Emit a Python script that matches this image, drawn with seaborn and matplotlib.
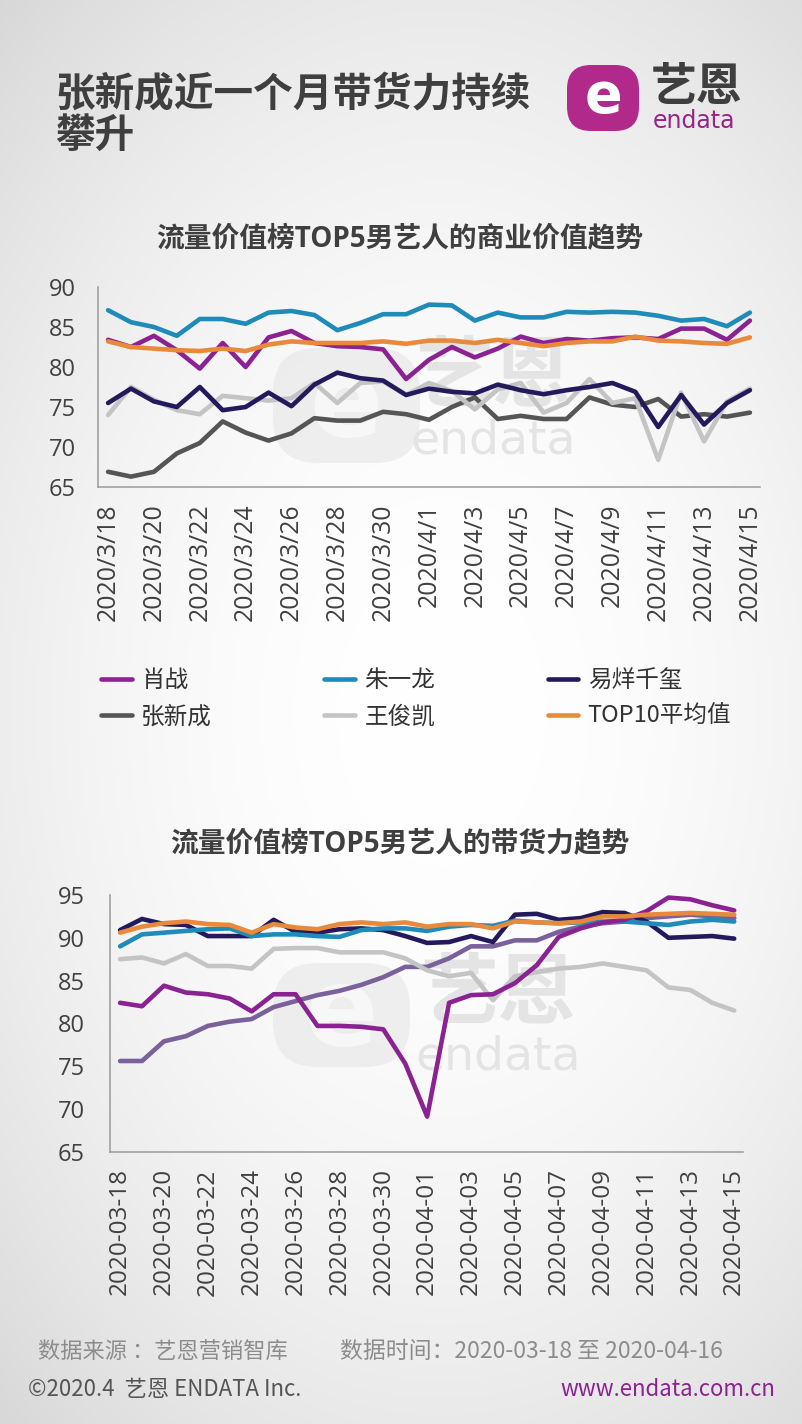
import numpy as np
import pandas as pd
import matplotlib
matplotlib.use("Agg")
import matplotlib.pyplot as plt
import matplotlib.transforms as mtransforms
from matplotlib.patches import FancyBboxPatch
from matplotlib.lines import Line2D
import seaborn as sns

# ---------------- data ----------------
names = ["肖战", "朱一龙", "易烊千玺", "张新成", "王俊凯", "TOP10平均值"]
day_index = list(range(29))
dates_top = [f"{d.year}/{d.month}/{d.day}" for d in pd.date_range("2020-03-18", "2020-04-15")]
dates_bot = [d.strftime("%Y-%m-%d") for d in pd.date_range("2020-03-18", "2020-04-15")]

xiao_top = [83.4, 82.5, 83.9, 82.1, 79.8, 83.0, 80.0, 83.7, 84.5, 83.0, 82.6, 82.5, 82.2, 78.5, 80.9,
            82.5, 81.2, 82.3, 83.8, 83.0, 83.5, 83.3, 83.6, 83.7, 83.5, 84.8, 84.8, 83.4, 85.8]
zhu_top = [87.1, 85.6, 85.0, 83.9, 86.0, 86.0, 85.4, 86.8, 87.0, 86.5, 84.6, 85.5, 86.6, 86.6, 87.8,
           87.7, 85.8, 86.8, 86.2, 86.2, 86.9, 86.8, 86.9, 86.8, 86.4, 85.8, 86.0, 85.1, 86.8]
yi_top = [75.5, 77.3, 75.7, 75.0, 77.5, 74.6, 75.0, 76.8, 75.1, 77.8, 79.3, 78.6, 78.3, 76.5, 77.3,
          76.9, 76.7, 77.8, 77.1, 76.6, 77.1, 77.5, 78.0, 76.9, 72.5, 76.5, 72.8, 75.5, 77.1]
zhang_top = [66.9, 66.3, 66.9, 69.2, 70.5, 73.2, 71.8, 70.8, 71.7, 73.6, 73.3, 73.3, 74.4, 74.1, 73.4,
             75.0, 76.2, 73.5, 73.9, 73.5, 73.5, 76.2, 75.3, 75.0, 76.0, 73.8, 74.1, 73.8, 74.3]
wang_top = [74.0, 77.5, 75.9, 74.6, 74.1, 76.4, 76.1, 75.8, 76.1, 78.0, 75.5, 78.0, 78.2, 76.5, 78.0,
            77.0, 74.7, 77.2, 78.0, 74.3, 75.5, 78.5, 75.5, 76.1, 68.4, 76.8, 70.7, 75.7, 77.3]
avg_top = [83.2, 82.5, 82.3, 82.1, 82.0, 82.3, 82.0, 82.8, 83.2, 83.0, 83.0, 83.0, 83.2, 82.9, 83.3,
           83.3, 83.0, 83.4, 83.0, 82.6, 83.0, 83.2, 83.2, 83.8, 83.3, 83.2, 83.0, 82.9, 83.7]

xiao_bot = [82.4, 82.0, 84.4, 83.6, 83.4, 82.9, 81.4, 83.4, 83.4, 79.7, 79.7, 79.6, 79.3, 75.3, 69.1,
            82.4, 83.3, 83.4, 84.7, 86.8, 90.1, 91.1, 91.8, 92.1, 93.1, 94.7, 94.5, 93.8, 93.2]
zhu_bot = [89.0, 90.4, 90.6, 90.8, 91.0, 91.1, 90.2, 90.4, 90.4, 90.2, 90.1, 90.9, 91.1, 91.1, 90.8,
           91.3, 91.5, 91.4, 92.0, 91.8, 91.7, 91.8, 91.9, 91.9, 91.7, 91.5, 91.9, 92.1, 91.9]
yi_bot = [90.9, 92.2, 91.6, 91.5, 90.2, 90.2, 90.2, 92.1, 90.7, 90.6, 91.0, 91.1, 90.9, 90.2, 89.4,
          89.5, 90.2, 89.5, 92.7, 92.8, 92.1, 92.3, 93.0, 92.9, 91.9, 90.0, 90.1, 90.2, 89.9]
zhang_bot = [75.6, 75.6, 77.9, 78.5, 79.7, 80.2, 80.5, 81.9, 82.6, 83.3, 83.8, 84.5, 85.4, 86.6, 86.6,
             87.6, 89.0, 89.0, 89.7, 89.7, 90.7, 91.3, 91.7, 91.9, 92.3, 92.5, 92.7, 92.5, 92.3]
wang_bot = [87.5, 87.7, 87.0, 88.1, 86.7, 86.7, 86.4, 88.7, 88.8, 88.8, 88.3, 88.3, 88.3, 87.6, 86.2,
            85.5, 85.9, 82.7, 85.5, 86.0, 86.4, 86.6, 87.0, 86.6, 86.2, 84.2, 83.9, 82.4, 81.5]
avg_bot = [90.6, 91.3, 91.7, 91.9, 91.6, 91.5, 90.6, 91.6, 91.2, 91.0, 91.6, 91.8, 91.6, 91.8, 91.3,
           91.6, 91.6, 91.1, 91.9, 91.8, 91.7, 91.9, 92.5, 92.5, 92.7, 92.8, 92.9, 92.8, 92.7]

top_series = [xiao_top, zhu_top, yi_top, zhang_top, wang_top, avg_top]
bot_series = [xiao_bot, zhu_bot, yi_bot, zhang_bot, wang_bot, avg_bot]

colors_top = {"肖战": "#8a2291", "朱一龙": "#1f8bb8", "易烊千玺": "#231a5e",
              "张新成": "#555555", "王俊凯": "#c4c4c4", "TOP10平均值": "#e8893b"}
colors_bot = dict(colors_top)
colors_bot["张新成"] = "#7a619c"
draw_order = ["张新成", "王俊凯", "易烊千玺", "朱一龙", "肖战", "TOP10平均值"]

# ---------------- style ----------------
sns.set_theme(style="white")
plt.rcParams["font.family"] = ["Open Sans", "Noto Sans CJK SC", "DejaVu Sans"]
CJK = ["Noto Sans CJK SC", "DejaVu Sans"]

W, H = 802, 1424
fig = plt.figure(figsize=(W / 100, H / 100), dpi=100)
pix = mtransforms.Affine2D().scale(1 / 100) + fig.dpi_scale_trans  # pixel coords (y up)


def fy(y):
    return H - y


# background gradient
bg = fig.add_axes([0, 0, 1, 1], zorder=-10)
yy, xx = np.mgrid[0:H, 0:W]
r = np.sqrt(((xx - W * 0.55) / (W * 0.75)) ** 2 + ((yy - H * 0.5) / (H * 0.62)) ** 2)
val = 1.0 - 0.13 * np.clip(r, 0, 1.4) ** 2
bg.imshow(np.dstack([val, val, val]), extent=[0, 1, 0, 1], aspect="auto")
bg.set_axis_off()

# ---------------- header ----------------
fig.text(55 / W, 1 - 95 / H, "张新成近一个月带货力持续", fontsize=28.5, fontweight="bold",
         color="#3f3f3f", family=CJK, va="center", ha="left")
fig.text(55 / W, 1 - 135 / H, "攀升", fontsize=28.5, fontweight="bold",
         color="#3f3f3f", family=CJK, va="center", ha="left")

# logo
logo = FancyBboxPatch((567, fy(131)), 72, 66, boxstyle="round,pad=0,rounding_size=24",
                      transform=pix, facecolor="#b12a8b", edgecolor="none", zorder=5)
fig.patches.append(logo)
fig.text(603 / W, 1 - 97 / H, "e", fontsize=40, fontweight="bold", color="white",
         family=["DejaVu Sans"], ha="center", va="center", zorder=6)
fig.text(697 / W, 1 - 88 / H, "艺恩", fontsize=33, fontweight="bold", color="#3f3f3f",
         family=CJK, ha="center", va="center")
fig.text(694 / W, 1 - 121 / H, "endata", fontsize=17, color="#9a2485",
         family=["DejaVu Sans"], ha="center", va="center")

# subtitles
fig.text(400 / W, 1 - 240 / H, "流量价值榜TOP5男艺人的商业价值趋势", fontsize=20, fontweight="bold",
         color="#3f3f3f", ha="center", va="center")
fig.text(400 / W, 1 - 845 / H, "流量价值榜TOP5男艺人的带货力趋势", fontsize=20, fontweight="bold",
         color="#3f3f3f", ha="center", va="center")


def watermark(cx_text, cy_text, cy_endata, shape_box):
    x0, y0, x1, y1 = shape_box
    p = FancyBboxPatch((x0, fy(y1)), x1 - x0, y1 - y0, boxstyle="round,pad=0,rounding_size=45",
                       transform=pix, facecolor="#e6e6e6", edgecolor="none", alpha=0.6, zorder=-5)
    fig.patches.append(p)
    fig.text((x0 + x1) / 2 / W, 1 - ((y0 + y1) / 2) / H, "e", fontsize=78, fontweight="bold",
             color="#f7f7f7", family=["DejaVu Sans"], ha="center", va="center", zorder=-4)
    fig.text(cx_text / W, 1 - cy_text / H, "艺恩", fontsize=56, fontweight="bold",
             color="#e4e4e4", family=CJK, ha="center", va="center", zorder=-4)
    fig.text(cx_text / W, 1 - cy_endata / H, "endata", fontsize=34, color="#e4e4e4",
             family=["DejaVu Sans"], ha="center", va="center", zorder=-4)


watermark(493, 378, 441, (273, 348, 420, 463))
watermark(498, 995, 1057, (273, 963, 410, 1067))


def make_df(series):
    rows = []
    for n, vals in zip(names, series):
        for i, v in zip(day_index, vals):
            rows.append({"idx": i, "value": v, "name": n})
    return pd.DataFrame(rows)


def style_axes(ax, ylim, yticks, xlabels, ypad, xpad, xsize):
    ax.set_facecolor("none")
    ax.set_ylim(*ylim)
    ax.set_yticks(yticks)
    ax.set_xticks(day_index[::2])
    ax.set_xticklabels(xlabels[::2], rotation=90)
    ax.set_xlabel("")
    ax.set_ylabel("")
    for s in ["top", "right"]:
        ax.spines[s].set_visible(False)
    for s in ["left", "bottom"]:
        ax.spines[s].set_color("#9a9a9a")
        ax.spines[s].set_linewidth(1.1)
    ax.tick_params(axis="y", length=0, pad=ypad, labelsize=17, labelcolor="#404040")
    ax.tick_params(axis="x", length=0, pad=xpad, labelsize=xsize, labelcolor="#404040")
    ax.grid(False)


# ---------------- top chart ----------------
ax1 = fig.add_axes([98 / W, 1 - 487 / H, 662 / W, 200 / H])
df1 = make_df(top_series)
sns.lineplot(data=df1, x="idx", y="value", hue="name", hue_order=draw_order, palette=colors_top,
             linewidth=3.3, estimator=None, legend=False, ax=ax1)
ax1.set_xlim(-0.44, 28.44)
style_axes(ax1, (65, 90), [65, 70, 75, 80, 85, 90], dates_top, ypad=16, xpad=12, xsize=17.8)

# ---------------- bottom chart ----------------
ax2 = fig.add_axes([110 / W, 1 - 1151.7 / H, 633 / W, 256.7 / H])
df2 = make_df(bot_series)
sns.lineplot(data=df2, x="idx", y="value", hue="name", hue_order=draw_order, palette=colors_bot,
             linewidth=3.3, estimator=None, legend=False, ax=ax2)
ax2.set_xlim(-0.46, 28.4)
style_axes(ax2, (65, 95), [65, 70, 75, 80, 85, 90, 95], dates_bot, ypad=18, xpad=12, xsize=17.5)

# ---------------- legend ----------------
order = ["肖战", "张新成", "朱一龙", "王俊凯", "易烊千玺", "TOP10平均值"]
handles = [Line2D([0], [0], color=colors_top[n], lw=3.3) for n in order]
leg = fig.legend(handles, order, ncol=3, loc="upper left",
                 bbox_to_anchor=(80 / W, 1 - 648 / H), frameon=False,
                 prop={"family": CJK, "size": 17}, handlelength=1.3, handletextpad=0.4,
                 columnspacing=4.75, labelspacing=0.55)
for t in leg.get_texts():
    t.set_color("#333333")

# ---------------- footer ----------------
fig.text(38 / W, 1 - 1352 / H, "数据来源 ：艺恩营销智库", fontsize=16, color="#8c8c8c",
         family=CJK, ha="left", va="center")
fig.text(340 / W, 1 - 1352 / H, "数据时间：2020-03-18 至 2020-04-16", fontsize=16.5, color="#8c8c8c",
         family=CJK, ha="left", va="center")
fig.text(28 / W, 1 - 1390 / H, "©2020.4  艺恩 ENDATA Inc.", fontsize=16, color="#555555",
         family=CJK, ha="left", va="center")
fig.text(775 / W, 1 - 1390 / H, "www.endata.com.cn", fontsize=16, color="#8a2291",
         family=CJK, ha="right", va="center")

fig.savefig("out.png", dpi=100)
